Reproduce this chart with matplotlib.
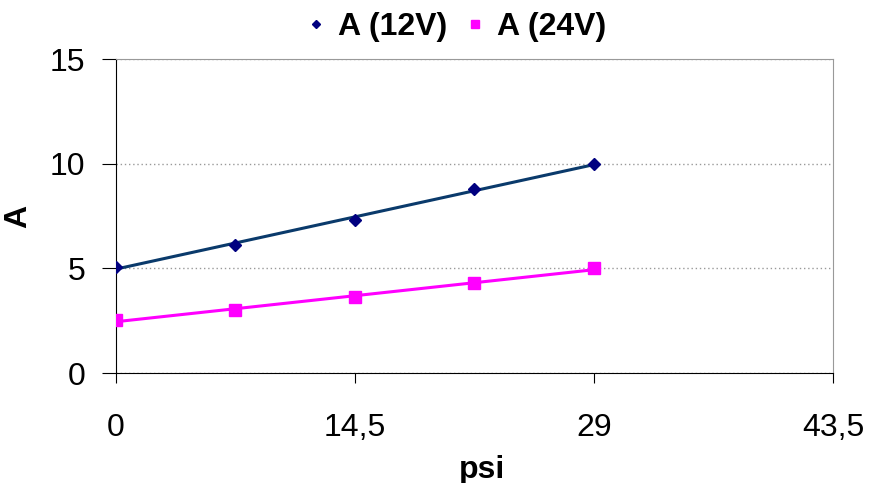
import numpy as np
import matplotlib
matplotlib.use('Agg')
import matplotlib.pyplot as plt
from matplotlib.ticker import FixedLocator, FixedFormatter

# data
psi = [0, 7.25, 14.5, 21.75, 29]
amp_12v = [5.08, 6.13, 7.33, 8.77, 10.0]
amp_24v = [2.52, 3.03, 3.64, 4.28, 5.0]
x_ticks = [0, 14.5, 29, 43.5]
x_labels = ['0', '14,5', '29', '43,5']
y_ticks = [0, 5, 10, 15]

plt.rcParams['font.family'] = ['Liberation Sans', 'DejaVu Sans']

fig = plt.figure(figsize=(8.69, 4.83), dpi=100)
ax = fig.add_axes([0.1335, 0.2277, 0.825, 0.65])

# linear trendlines like the original
xs = np.linspace(psi[0], psi[-1], 100)
for y, lc, mc, mk, ms, lab in [(amp_12v, '#0a3a6b', '#000080', 'D', 6, 'A (12V)'),
                                (amp_24v, '#ff00ff', '#ff00ff', 's', 8, 'A (24V)')]:
    p = np.polyfit(psi, y, 1)
    ax.plot(xs, np.polyval(p, xs), color=lc, lw=2.2, zorder=2)
    ax.plot(psi, y, linestyle='none', marker=mk, ms=ms, color=mc, label=lab, zorder=3)

ax.set_xlim(0, 43.5)
ax.set_ylim(0, 15)
ax.xaxis.set_major_locator(FixedLocator(x_ticks))
ax.xaxis.set_major_formatter(FixedFormatter(x_labels))
ax.set_yticks(y_ticks)
ax.yaxis.grid(True, linestyle=(0, (1, 2)), color='#999999', lw=1)
ax.set_axisbelow(True)

for s in ['top', 'right']:
    ax.spines[s].set_color('#999999')
for s in ['left', 'bottom']:
    ax.spines[s].set_color('black')
ax.tick_params(axis='x', direction='out', length=7, pad=22, labelsize=23)
ax.tick_params(axis='y', direction='out', length=10, pad=12, labelsize=23)

ax.set_xlabel('psi', fontsize=23, fontweight='bold', labelpad=0)
ax.xaxis.set_label_coords(0.51, -0.26)
ax.set_ylabel('A', fontsize=23, fontweight='bold')
ax.yaxis.set_label_coords(-0.115, 0.5)

fig.legend(loc='upper center', bbox_to_anchor=(457 / 869, 1.035), ncol=2, frameon=False,
           prop={'size': 23, 'weight': 'bold'}, handlelength=0.5, handletextpad=0.45,
           columnspacing=0.6, markerscale=0.65)

fig.savefig('out.png', dpi=100)
